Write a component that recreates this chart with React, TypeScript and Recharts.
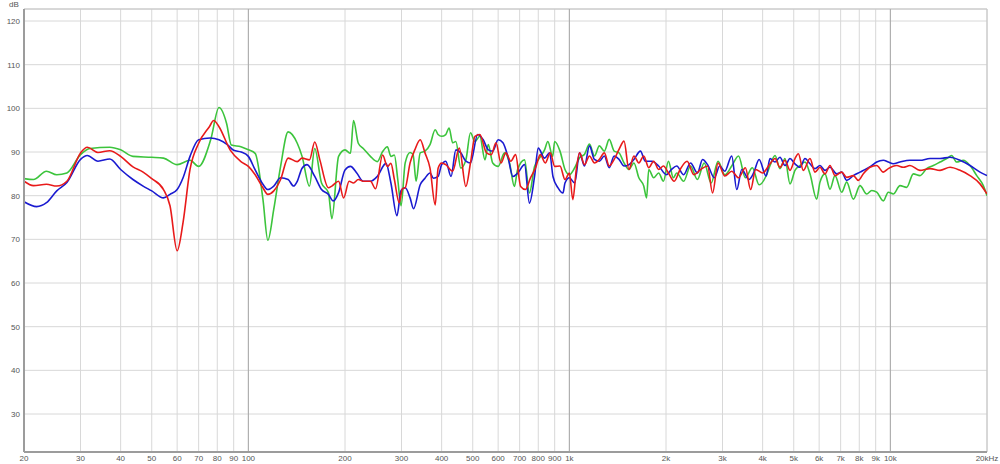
import React from 'react';
import {
  LineChart, Line, XAxis, YAxis, CartesianGrid, ReferenceLine, ReferenceArea
} from 'recharts';

// [frequency Hz, level dB]
const greenPts: [number, number][] = [
  [20, 83.9], [21.4, 83.7], [23.5, 85.6], [25.3, 84.8], [27.2, 85.2], [30, 89.4], [32.1, 90.8], [37, 91.1],
  [40, 90.5], [43.7, 89], [50, 88.8], [54.4, 88.6], [60, 87.1], [65.8, 88.1], [70, 86.7], [76.3, 92.8],
  [81, 100.2], [85.5, 96.6], [88.5, 91.6], [94.8, 91.2], [100, 90.5], [105, 89.7], [111, 79.2], [115, 69.8],
  [120, 76.9], [126, 86.7], [133, 94.6], [142, 92], [147, 89], [155, 82.2], [161, 90.8], [169, 82.9],
  [177.6, 80.7], [182, 74.7], [191, 89], [200, 90.5], [208, 89.7], [212.6, 97.2], [220, 92], [228, 90.8],
  [240, 89], [252, 87.8], [262, 90.1], [271, 91.2], [278, 89], [285, 89.3], [292, 83.7], [299, 77.7],
  [308, 87.5], [319, 89.9], [326, 89.4], [333, 83.3], [343, 89.8], [355, 90.2], [368, 91.7], [382, 95.1],
  [390, 94], [400, 93.6], [412, 94], [422, 95.5], [433, 92.1], [443, 92.4], [459, 86.3], [476, 88.2],
  [492, 94.4], [508, 92.4], [526, 93.6], [546, 88.2], [559, 91.7], [577, 87.5], [600, 86.7], [628, 89.8],
  [651, 87.5], [674, 82.1], [690, 86], [725, 88.2], [751, 80.6], [779, 86.7], [800, 88.2], [837, 90.5],
  [857, 92.4], [887, 89], [900, 92.4], [935, 90.2], [969, 86], [1000, 84.8], [1039, 86.4], [1076, 88.7],
  [1115, 89.5], [1155, 91.8], [1197, 89.1], [1240, 91.4], [1285, 90.2], [1331, 92.9], [1379, 90.2],
  [1428, 89.8], [1480, 87.5], [1533, 86], [1589, 87.5], [1646, 84.1], [1705, 82.2], [1740, 79.5],
  [1767, 86], [1831, 84.1], [1897, 85.2], [1964, 83.3], [2035, 87.9], [2108, 84.1], [2160, 85.2],
  [2270, 83.3], [2385, 86.8], [2505, 83.7], [2630, 87.5], [2765, 82.9], [2905, 87.9], [3050, 84.8],
  [3205, 86.8], [3365, 89.1], [3535, 84.1], [3715, 86.4], [3900, 82.5], [4100, 84.5], [4218, 86.9],
  [4372, 89.2], [4530, 86.2], [4696, 88.5], [4867, 82.7], [5045, 85.8], [5230, 86.9], [5420, 87.7],
  [5618, 85], [5894, 79.2], [6036, 83.1], [6256, 85], [6485, 81.5], [6722, 84.6], [7052, 80.8],
  [7310, 83.1], [7667, 79.2], [8044, 82.3], [8438, 80.4], [8747, 81.2], [9067, 80.8], [9506, 78.8],
  [9852, 80.8], [10212, 80.4], [10716, 82.3], [11244, 81.9], [11790, 85], [12368, 84.6], [12976, 86.2],
  [13608, 86.9], [14280, 87.7], [14980, 88.5], [15520, 89.2], [16090, 87.7], [16876, 88.1],
  [17700, 86.9], [18580, 84.6], [19480, 82.3], [20000, 80],
];

const redPts: [number, number][] = [
  [20, 83.3], [21.4, 82.3], [23.5, 82.6], [25.3, 82.2], [27.2, 83.3], [30, 89.8], [31.5, 91.1], [34, 89.9],
  [37, 90.3], [40, 89], [43.7, 86.6], [47, 85.4], [50, 83.9], [54.4, 81.4], [57, 77.7], [60, 67.4],
  [62.6, 73.9], [65.8, 86], [70, 92], [75.6, 95.8], [78, 97.2], [81, 95.8], [87.7, 90.5], [94.8, 87.8],
  [100, 86.7], [105, 84.8], [111, 81.8], [115, 80.3], [120, 81.1], [126, 83.7], [133, 88.6], [142, 87.8],
  [147, 88.6], [155, 88.2], [161, 92.3], [167, 88.2], [177.6, 81.8], [182, 82.2], [191, 83.3], [198, 79.5],
  [206, 83.3], [212.6, 82.9], [220, 83.7], [228, 83.3], [240, 83.3], [249, 81.6], [262, 89.3], [271, 86.7],
  [278, 87.4], [285, 83.7], [295, 78.4], [302, 81.6], [308, 81.8], [319, 87.5], [330, 90.5], [343, 92.8],
  [355, 89.8], [368, 86.3], [382, 77.9], [390, 86.3], [400, 87.5], [412, 87.1], [433, 85.6], [454, 90.9],
  [476, 82.1], [492, 87.5], [508, 93.6], [526, 94], [552, 89.8], [571, 89.4], [591, 92.1], [612, 87.5],
  [634, 89.8], [657, 87.9], [680, 89.4], [705, 82.1], [730, 81.4], [756, 84], [784, 86.3], [812, 89.4],
  [841, 87.5], [872, 89.8], [900, 86.7], [935, 86.8], [969, 83.7], [1000, 85.2], [1025, 79.1], [1051, 86],
  [1076, 89.8], [1115, 87.1], [1155, 89.1], [1197, 87.5], [1240, 88.3], [1285, 89.8], [1331, 86.8],
  [1379, 88.3], [1428, 90.6], [1480, 92.5], [1533, 86], [1589, 89.1], [1646, 87.5], [1705, 89.1],
  [1767, 86.4], [1831, 87.9], [1897, 86], [1964, 86.8], [2035, 85.2], [2121, 83.3], [2213, 86],
  [2327, 87.9], [2443, 84.8], [2566, 86], [2695, 86.8], [2793, 80.6], [2905, 87.5], [3050, 84.5],
  [3205, 85.6], [3365, 84.1], [3535, 86.4], [3670, 81.4], [3805, 86], [4000, 85.2], [4218, 87.3],
  [4372, 88.5], [4530, 86.5], [4696, 88.1], [4867, 85.8], [5045, 88.5], [5168, 89.6], [5356, 85.8],
  [5618, 88.5], [5823, 85.4], [6036, 86.5], [6256, 85], [6485, 86.9], [6722, 84.6], [7052, 85.4],
  [7310, 84.2], [7667, 84.6], [7947, 83.5], [8237, 85], [8642, 86.5], [9067, 86.9], [9506, 85.4],
  [9852, 86.2], [10465, 86.9], [10972, 86.5], [11512, 86.9], [12368, 85.8], [13288, 86.2], [14280, 85.8],
  [15340, 86.5], [16480, 85.8], [17700, 84.6], [19020, 82.7], [20000, 80.4],
];

const bluePts: [number, number][] = [
  [20, 78.6], [21.9, 77.5], [23.5, 78.4], [25.3, 81.1], [27.2, 83], [30, 88.3], [31.5, 89.2], [34, 87.9],
  [37, 88.4], [40, 86], [43.7, 83.7], [47, 82.2], [50, 81.1], [54.4, 79.5], [57, 80.3], [60, 81.4],
  [62.6, 84.1], [65.8, 89], [70, 92.8], [76, 93.2], [81, 92.8], [86, 91.7], [90, 90.4], [95, 90],
  [100, 89], [105, 85.9], [111, 82.6], [115, 81.4], [120, 82.2], [126, 84.1], [133, 83.7], [138.3, 82.2],
  [142, 83.3], [147, 86.3], [152.3, 87.1], [161, 84.4], [169, 81.4], [177.6, 80.3], [183.9, 78.8],
  [191, 80.7], [200, 85.9], [208, 86.7], [217.6, 85.2], [228, 83.3], [240, 83.3], [252, 84.4],
  [268.4, 87.4], [278, 82.9], [290.3, 75.4], [299, 81.2], [308, 81.8], [319, 79.5], [327, 77], [343, 82.5],
  [355, 84], [368, 85.2], [377, 84], [390, 84.4], [400, 87.1], [412, 87.9], [428, 84.4], [443, 90.5],
  [459, 89.8], [476, 87.9], [492, 87.5], [518, 94], [539, 92.8], [559, 90.5], [577, 90.2], [600, 92.8],
  [621, 92.1], [643, 89], [667, 84.4], [691, 85.2], [725, 87.1], [751, 78.3], [779, 84.4], [800, 90.9],
  [837, 88.6], [868, 89.8], [889, 84.4], [922, 81.8], [955, 80.6], [969, 82.9], [1000, 84.1], [1039, 82.9],
  [1076, 89.8], [1115, 86.8], [1155, 91.4], [1197, 88.3], [1240, 87.9], [1285, 89.1], [1331, 86.4],
  [1379, 89.1], [1428, 88.3], [1480, 86.8], [1533, 87.1], [1589, 88.3], [1665, 90.2], [1725, 87.9],
  [1810, 87.9], [1897, 86.8], [2007, 84.8], [2080, 86], [2160, 86.8], [2270, 84.8], [2385, 87.5],
  [2505, 85.2], [2600, 88.3], [2695, 87.1], [2830, 84.1], [2940, 86.8], [3050, 85.6], [3205, 89.1],
  [3322, 81.4], [3445, 86], [3625, 83.7], [3750, 85.2], [3900, 88.3], [4100, 84.5], [4218, 88.5],
  [4372, 87.7], [4530, 88.8], [4696, 86.9], [4867, 88.5], [5045, 87.3], [5230, 86.5], [5420, 88.5],
  [5618, 87.3], [5823, 86.2], [6036, 86.9], [6256, 85.8], [6485, 86.5], [6804, 85], [7052, 85.4],
  [7310, 83.5], [7667, 84.6], [8044, 85.4], [8438, 86.2], [8747, 86.9], [9067, 87.7], [9506, 88.1],
  [9852, 87.7], [10212, 87.3], [10716, 87.7], [11512, 88.1], [12368, 88.1], [13288, 88.5],
  [14280, 88.5], [15340, 88.8], [16480, 88.1], [17700, 86.9], [19020, 85.4], [20000, 84.6],
];

const freqTicks = [
  20, 30, 40, 50, 60, 70, 80, 90, 100, 200, 300, 400, 500, 600, 700, 800, 900,
  1000, 2000, 3000, 4000, 5000, 6000, 7000, 8000, 9000, 10000, 20000,
];
const decadeLines = [100, 1000, 10000];
const dbTicks = [30, 40, 50, 60, 70, 80, 90, 100, 110, 120];

const DB_MIN = 21.3;
const DB_MAX = 122.75;

const toRows = (pts: [number, number][]) => pts.map(([hz, db]) => ({ hz, db }));

const fmtFreq = (f: number) => {
  if (f === 20000) return '20kHz';
  if (f >= 1000) return `${f / 1000}k`;
  return `${f}`;
};

const tickStyle = { fontSize: 8, fill: '#555', fontFamily: 'Liberation Sans, Arial, sans-serif' };

const App: React.FC = () => {
  return (
    <div style={{ position: 'absolute', left: 0, top: 0, width: 1000, height: 464, background: '#fff' }}>
      <div style={{
        position: 'absolute', left: 9, top: 0, fontSize: 8, color: '#555',
        fontFamily: 'Liberation Sans, Arial, sans-serif'
      }}>dB</div>
      <LineChart
        width={1000}
        height={464}
        margin={{ top: 9, right: 13, bottom: 0, left: 0 }}
      >
        <CartesianGrid stroke="#d8d8d8" strokeWidth={1} />
        <XAxis
          dataKey="hz"
          type="number"
          scale="log"
          domain={[20, 20000]}
          ticks={freqTicks}
          tickFormatter={fmtFreq}
          interval={0}
          allowDataOverflow
          height={12}
          tickLine={false}
          tickSize={0}
          tickMargin={3}
          axisLine={{ stroke: '#9c9c9c', strokeWidth: 2 }}
          tick={tickStyle}
        />
        <YAxis
          type="number"
          domain={[DB_MIN, DB_MAX]}
          ticks={dbTicks}
          interval={0}
          allowDataOverflow
          width={24}
          tickLine={false}
          tickSize={0}
          tickMargin={4}
          axisLine={{ stroke: '#9c9c9c', strokeWidth: 2 }}
          tick={tickStyle}
        />
        {decadeLines.map((f) => (
          <ReferenceLine key={`dec-${f}`} x={f} stroke="#a8a8a8" strokeWidth={1} />
        ))}
        <ReferenceArea
          x1={20} x2={20000} y1={DB_MIN} y2={DB_MAX}
          fill="none" stroke="#c4c4c4" strokeWidth={1}
        />
        <Line
          data={toRows(greenPts)}
          dataKey="db"
          type="monotone"
          stroke="#3cc43c"
          strokeWidth={1.6}
          dot={false}
          isAnimationActive={false}
        />
        <Line
          data={toRows(bluePts)}
          dataKey="db"
          type="monotone"
          stroke="#1a1ad0"
          strokeWidth={1.6}
          dot={false}
          isAnimationActive={false}
        />
        <Line
          data={toRows(redPts)}
          dataKey="db"
          type="monotone"
          stroke="#e81a1a"
          strokeWidth={1.6}
          dot={false}
          isAnimationActive={false}
        />
      </LineChart>
    </div>
  );
};

export default App;
